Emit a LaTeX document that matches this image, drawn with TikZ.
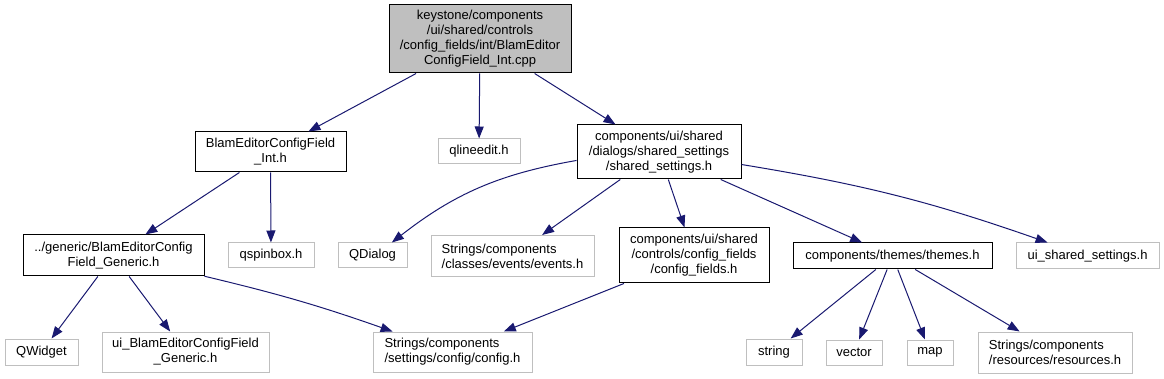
\documentclass[tikz,border=0pt]{standalone}
\usepackage{fontspec}
\setmainfont{Liberation Sans}
\usepackage{tikz}
\usetikzlibrary{arrows.meta}
\definecolor{EdgeBlue}{HTML}{191970}
\definecolor{BoxGray} {HTML}{BFBFBF}

\begin{document}
\begin{tikzpicture}[
  x=1pt, y=-1pt,
  file/.style = {draw=black, fill=white, line width=1pt, inner sep=2pt,
                 font=\fontsize{13}{15}\selectfont, align=center},
  root/.style = {file, fill=BoxGray},
  ext/.style  = {file, draw=BoxGray},
  dep/.style  = {-{Triangle[length=12pt, width=9pt]}, EdgeBlue, line width=1pt},
]
\useasboundingbox (0,0) rectangle (1164,379);

% top level
\node[root, minimum width=182pt, minimum height=68pt] (main) at (480,39)
  {keystone/components\\/ui/shared/controls\\/config\_fields/int/BlamEditor\\ConfigField\_Int.cpp};

% second row
\node[file, minimum width=151pt, minimum height=40pt] (inth)   at (270.5,152) {BlamEditorConfigField\\\_Int.h};
\node[ext,  minimum width=82pt,  minimum height=25pt] (qline)  at (479,151.5) {qlineedit.h};
\node[file, minimum width=164pt, minimum height=54pt] (shset)  at (659,152)
  {components/ui/shared\\/dialogs/shared\_settings\\/shared\_settings.h};

% third row
\node[file, minimum width=181pt, minimum height=41pt] (generic) at (113.5,255.5) {../generic/BlamEditorConfig\\Field\_Generic.h};
\node[ext,  minimum width=86pt,  minimum height=25pt] (qspin)   at (271,255.5)   {qspinbox.h};
\node[ext,  minimum width=69pt,  minimum height=25pt] (qdialog) at (372.5,255.5) {QDialog};
\node[ext,  minimum width=163pt, minimum height=41pt, align=left] (events) at (512.5,256)
  {Strings/components\\/classes/events/events.h};
\node[file, minimum width=150pt, minimum height=55pt] (cfields) at (694,255.5)
  {components/ui/shared\\/controls/config\_fields\\/config\_fields.h};
\node[file, minimum width=199pt, minimum height=26pt] (themes)  at (892.5,256)  {components/themes/themes.h};
\node[ext,  minimum width=143pt, minimum height=26pt] (uiss)    at (1087.5,256) {ui\_shared\_settings.h};

% bottom row
\node[ext, minimum width=73pt,  minimum height=26pt] (qwidget) at (41.5,352)  {QWidget};
\node[ext, minimum width=167pt, minimum height=40pt] (uigen)   at (185.5,352) {ui\_BlamEditorConfigField\\\_Generic.h};
\node[ext, minimum width=159pt, minimum height=40pt, align=left] (config) at (452.5,352)
  {Strings/components\\/settings/config/config.h};
\node[ext, minimum width=56pt,  minimum height=26pt] (string)  at (774,352)    {string};
\node[ext, minimum width=56pt,  minimum height=25pt] (vector)  at (854,352.5)  {vector};
\node[ext, minimum width=46pt,  minimum height=25pt] (map)     at (930,352.5)  {map};
\node[ext, minimum width=154pt, minimum height=41pt, align=left] (res) at (1055,352.5)
  {Strings/components\\/resources/resources.h};

% includes
\draw[dep] (main) -- (inth);
\draw[dep] (main) -- (qline);
\draw[dep] (main) -- (shset);
\draw[dep] (inth) -- (generic);
\draw[dep] (inth) -- (qspin);
\draw[dep] (shset) to[bend right=14] (qdialog);
\draw[dep] (shset) -- (events);
\draw[dep] (shset) -- (cfields);
\draw[dep] (shset) -- (themes);
\draw[dep] (shset) to[bend left=5] (uiss);
\draw[dep] (generic) -- (qwidget);
\draw[dep] (generic) -- (uigen);
\draw[dep] (generic) to[bend left=3] (config);
\draw[dep] (cfields) -- (config);
\draw[dep] (themes) -- (string);
\draw[dep] (themes) -- (vector);
\draw[dep] (themes) -- (map);
\draw[dep] (themes) -- (res);
\end{tikzpicture}
\end{document}
